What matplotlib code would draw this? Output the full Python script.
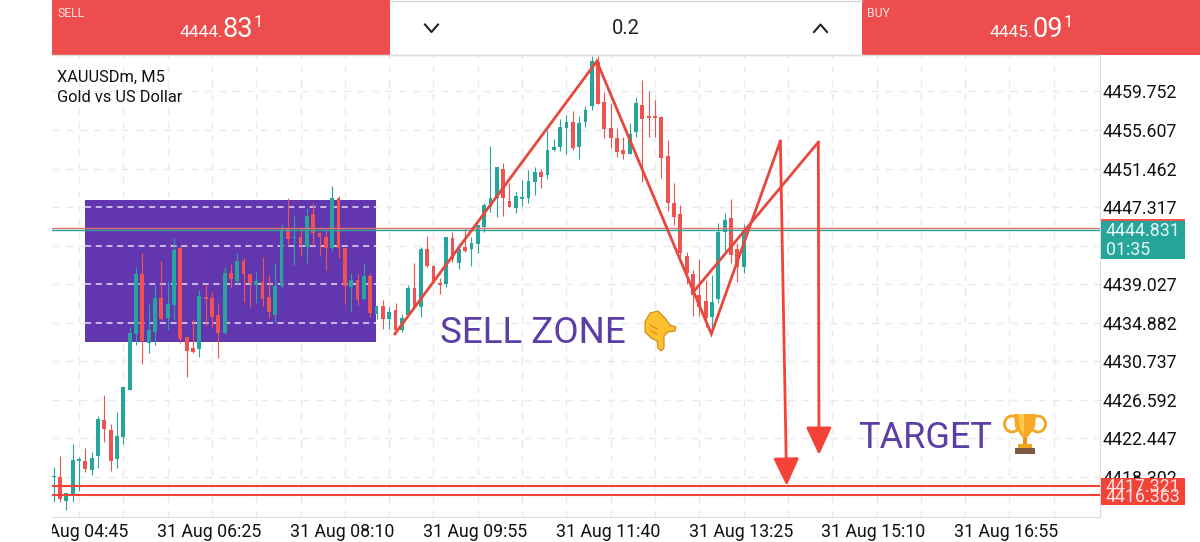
import matplotlib
matplotlib.use('Agg')
import matplotlib.pyplot as plt
from matplotlib.patches import Rectangle, Polygon, Ellipse
from matplotlib.transforms import ScaledTranslation

plt.rcParams['font.family'] = ['Roboto', 'DejaVu Sans']

# candles, first one is 4 bars left of the 04:45 tick
first_bar = -4
opens = [4418.26,4418.35,4415.77,4416.46,4420.07,4420.00,4419.10,4420.54,4424.41,4423.40,
         4420.25,4422.58,4427.66,4433.64,4440.09,4432.74,4433.92,4437.57,4435.43,4436.79,
         4442.88,4433.32,4432.17,4432.03,4437.62,4437.54,4435.68,4433.81,4440.19,4439.40,
         4441.55,4440.09,4438.94,4439.26,4437.68,4435.72,4438.83,4445.03,4443.99,4444.13,
         4443.05,4446.53,4444.49,4444.13,4442.94,4448.25,4442.88,4438.76,4439.48,4437.43,
         4439.94,4435.79,4436.68,4435.32,4436.25,4434.10,4435.72,4438.58,4436.61,4442.77,
         4440.98,4439.19,4439.05,4444.02,4441.33,4442.99,4442.81,4443.31,4445.20,4447.35,
         4448.25,4451.43,4448.01,4447.21,4448.21,4448.32,4450.00,4451.04,4450.72,4453.44,
         4453.76,4455.80,4456.45,4453.76,4456.45,4458.20,4462.92,4458.59,4455.83,4454.80,
         4453.44,4453.08,4455.34,4458.27,4457.09,4457.09,4457.02,4452.79,4447.71,4446.53,
         4442.09,4440.12,4437.83,4437.22,4435.53,4437.40,4444.66,4446.10,4442.77,4440.84]
closes = [4418.37,4415.92,4416.60,4420.11,4420.22,4419.17,4420.39,4424.55,4423.44,4420.03,
          4422.72,4427.95,4433.78,4440.09,4432.92,4434.10,4437.51,4435.25,4436.90,4442.70,
          4433.11,4431.88,4431.77,4437.76,4437.40,4435.53,4433.81,4440.19,4439.58,4441.55,
          4440.12,4439.12,4439.37,4437.40,4436.07,4438.83,4444.85,4443.88,4444.13,4443.31,
          4446.35,4444.49,4444.06,4442.94,4448.25,4442.88,4438.83,4439.48,4437.33,4439.90,
          4435.90,4436.72,4435.25,4436.04,4434.10,4435.36,4438.65,4436.61,4442.77,4440.98,
          4439.40,4438.97,4444.06,4441.70,4442.77,4442.62,4443.42,4445.38,4447.53,4448.25,
          4451.58,4448.25,4447.35,4448.50,4448.39,4450.11,4451.08,4450.54,4453.51,4453.76,
          4455.94,4456.45,4453.62,4456.31,4457.81,4463.03,4458.45,4455.73,4454.73,4453.22,
          4453.01,4455.23,4458.52,4456.77,4456.95,4456.88,4452.65,4447.71,4446.27,4442.34,
          4440.19,4437.83,4436.61,4435.36,4437.14,4444.66,4445.92,4442.16,4440.90,4444.83]
highs = [4419.42,4420.57,4416.60,4421.86,4420.43,4421.40,4421.03,4424.87,4427.12,4424.01,
         4425.30,4428.01,4434.46,4440.90,4442.34,4436.87,4438.94,4441.55,4439.40,4443.95,
         4443.13,4433.39,4435.25,4438.40,4438.94,4438.22,4437.04,4440.90,4441.19,4442.41,
         4441.81,4440.12,4440.37,4441.98,4440.01,4441.33,4445.46,4448.25,4446.46,4445.03,
         4447.18,4447.78,4444.66,4444.85,4449.57,4448.50,4442.88,4440.26,4440.12,4441.33,
         4440.20,4436.79,4437.33,4436.61,4436.97,4435.82,4438.94,4441.33,4443.05,4444.23,
         4441.09,4439.69,4444.13,4444.66,4443.42,4445.03,4444.13,4445.38,4447.71,4453.87,
         4451.58,4452.01,4449.89,4448.96,4450.22,4451.29,4451.64,4451.43,4455.59,4454.59,
         4456.84,4457.20,4457.66,4457.09,4458.20,4463.54,4463.54,4459.70,4458.56,4455.77,
         4454.87,4456.31,4459.16,4461.03,4459.81,4458.81,4457.09,4454.51,4449.93,4447.53,
         4442.52,4440.55,4441.73,4439.48,4440.01,4445.57,4446.70,4448.14,4443.42,4445.46]
lows = [4415.66,4415.66,4414.77,4415.66,4416.84,4418.88,4418.53,4419.32,4422.04,4418.96,
        4419.25,4421.89,4427.61,4432.49,4430.45,4431.67,4432.49,4435.18,4434.10,4435.18,
        4432.74,4429.09,4431.67,4431.17,4434.53,4434.39,4431.06,4433.68,4438.69,4439.05,
        4437.14,4436.61,4436.97,4436.68,4435.36,4435.00,4438.58,4443.23,4441.09,4442.05,
        4441.27,4443.23,4442.16,4440.55,4442.62,4441.81,4436.90,4436.07,4436.79,4437.33,
        4435.47,4435.29,4434.21,4434.21,4433.89,4433.89,4435.61,4436.44,4435.53,4440.84,
        4439.19,4437.97,4438.75,4441.44,4440.62,4442.52,4441.01,4442.41,4444.66,4446.81,
        4446.21,4446.35,4447.32,4446.64,4447.42,4447.78,4448.64,4449.36,4450.29,4453.36,
        4453.33,4453.01,4453.51,4452.50,4455.88,4457.73,4458.40,4454.80,4453.69,4452.72,
        4452.44,4453.03,4454.87,4450.03,4454.87,4454.87,4450.40,4446.92,4445.38,4441.98,
        4439.05,4435.64,4435.61,4434.46,4434.46,4436.97,4442.59,4441.33,4439.23,4440.26]

price_ticks = [4459.752,4455.607,4451.462,4447.317,4443.172,4439.027,4434.882,4430.737,4426.592,4422.447,4418.302]
hidden_tick = 4443.172  # sits behind the current price tag
time_labels = ['31 Aug 04:45','31 Aug 06:25','31 Aug 08:10','31 Aug 09:55','31 Aug 11:40','31 Aug 13:25','31 Aug 15:10','31 Aug 16:55']
time_bars = [0,21,42,63,84,105,126,147]

bid = 4444.831
ask = 4445.09
target_levels = [4417.321,4416.363]

zone_bars = [0.95,46.9]
zone_prices = [4432.84,4448.12]
zone_dashes = [4447.317,4443.172,4439.027,4434.882]

wave1_bars = [49.9,81.8,99.9,110.8]
wave1_prices = [4433.68,4463.0,4433.68,4454.41]
wave2_bars = [96.95,116.8]
wave2_prices = [4438.11,4454.30]
arrow1 = (111.8,4417.35)
arrow2 = (116.9,4420.68)

GREEN = '#26a69a'
RED = '#ef5350'
LINE_RED = '#f44336'
TREND = '#e5483c'
PURPLE = '#6236af'
TEXT_PURPLE = '#5b3ea6'

fig = plt.figure(figsize=(12,5.42), dpi=100, facecolor='white')
ax = fig.add_axes([52/1200, 1-517/542, 1048/1200, 462/542])
ax.set_xlim(-4.27,161.3)
ax.set_ylim(4414.0,4463.67)

# grid
ax.set_xticks(time_bars)
ax.set_xticklabels(time_labels)
ax.set_xticks(range(7,161,7), minor=True)
ax.set_yticks(price_ticks)
ax.set_yticklabels(['' if p == hidden_tick else '%.3f' %p for p in price_ticks])
ax.yaxis.tick_right()
ax.tick_params(axis='both', which='both', length=0)
ax.tick_params(axis='x', labelsize=12.75, pad=4.5, labelcolor='#111111')
ax.tick_params(axis='y', labelsize=12.75, pad=1.5, labelcolor='#111111')
for lab in ax.get_xticklabels():
    lab.set_transform(lab.get_transform() + ScaledTranslation(-3/100, 0, fig.dpi_scale_trans))
ax.grid(True, which='both', color='#e9e9e9', linestyle=(0,(5,5)), linewidth=1)
ax.set_axisbelow(True)
for side in ['left','top']:
    ax.spines[side].set_visible(False)
for side in ['right','bottom']:
    ax.spines[side].set_color('#dddddd')

# sell zone, hides the grid under it
ax.add_patch(Rectangle((zone_bars[0],zone_prices[0]), zone_bars[1]-zone_bars[0], zone_prices[1]-zone_prices[0],
                       color=PURPLE, lw=0, zorder=1.5))
ax.hlines(zone_dashes, zone_bars[0], zone_bars[1], color='#e6dcf5', linestyle=(0,(4,3)), linewidth=1.1, zorder=1.6)

# candles
for i in range(len(closes)):
    bar = first_bar + i
    color = GREEN if closes[i] >= opens[i] else RED
    ax.vlines(bar, lows[i], highs[i], color=color, linewidth=0.8, zorder=2)
    ax.bar(bar, max(abs(closes[i]-opens[i]),0.12), bottom=min(opens[i],closes[i]), width=0.6, color=color, linewidth=0, zorder=2.1)

# price lines
ax.axhline(ask, color='#e57368', linewidth=1, zorder=3)
ax.axhline(bid, color=GREEN, linewidth=1, zorder=3)
for level in target_levels:
    ax.axhline(level, color=LINE_RED, linewidth=1.5, zorder=3)

# drawn waves and arrows
ax.plot(wave1_bars, wave1_prices, color=TREND, linewidth=2, solid_joinstyle='miter', zorder=4)
ax.plot(wave2_bars, wave2_prices, color=TREND, linewidth=2, solid_joinstyle='miter', zorder=4)
head = dict(arrowstyle='-|>,head_length=1.55,head_width=0.72', color=LINE_RED, lw=2, shrinkA=0, shrinkB=0, mutation_scale=11)
ax.annotate('', xy=arrow1, xytext=(wave1_bars[-1],wave1_prices[-1]), arrowprops=head, zorder=4)
ax.annotate('', xy=arrow2, xytext=(wave2_bars[-1],wave2_prices[-1]), arrowprops=head, zorder=4)

# everything around the chart is placed in screen pixels
ui = fig.add_axes([0,0,1,1], zorder=5)
ui.set_xlim(0,1200)
ui.set_ylim(542,0)
ui.axis('off')

ui.add_patch(Rectangle((0,517.5), 52, 24.5, color='white', lw=0))

# top bar
ui.add_patch(Rectangle((52,0), 338, 55, color='#ee4d4d', lw=0))
ui.add_patch(Rectangle((862,0), 338, 55, color='#ee4d4d', lw=0))
ui.plot([390,862], [0.7,0.7], color='#d8d8d8', lw=1)
ui.plot([390,862], [54.5,54.5], color='#d8d8d8', lw=1)
ui.plot([52,1100], [55,55], color='#dddddd', lw=1)
ui.plot([425,431.5,438], [24.5,32,24.5], color='#222222', lw=1.5)
ui.plot([814,820.5,827], [32,24.5,32], color='#222222', lw=1.5)
ui.text(626, 29, '0.2', fontsize=14.5, color='#222222', ha='center', va='center')

ui.text(57, 13.5, 'SELL', fontsize=8.8, color='#fbe3e3', va='center')
ui.text(867, 13.5, 'BUY', fontsize=8.8, color='#fbe3e3', va='center')
for x0, small, big in [(179,'4444.','83'), (989,'4445.','09')]:
    ui.text(x0, 37, small, fontsize=12.5, color='white', va='baseline')
    ui.text(x0+43, 37, big, fontsize=19.5, color='white', va='baseline')
    ui.text(x0+75, 27, '1', fontsize=12, color='white', va='baseline')

# symbol
ui.text(57, 77.5, 'XAUUSDm, M5', fontsize=11.8, color='#111111', va='center')
ui.text(57, 97, 'Gold vs US Dollar', fontsize=11.8, color='#111111', va='center')

# price tags
ui.add_patch(Rectangle((1101,219), 84, 20, color=RED, lw=0))
ui.add_patch(Rectangle((1101,220.5), 84, 38.5, color=GREEN, lw=0))
ui.text(1106, 231.5, '4444.831', fontsize=12.75, color='#e8f6f4', va='center')
ui.text(1106, 250, '01:35', fontsize=12.75, color='#e8f6f4', va='center')
ui.add_patch(Rectangle((1101,477.5), 84, 19, color=LINE_RED, lw=0))
ui.text(1106, 487, '4417.321', fontsize=12.75, color='#fbe3e3', va='center')
ui.add_patch(Rectangle((1101,487), 84, 18, color=LINE_RED, lw=0))
ui.text(1106, 496.5, '4416.363', fontsize=12.75, color='#fbe3e3', va='center')

# labels
ui.text(440, 333, 'SELL ZONE', fontsize=26.5, color=TEXT_PURPLE, va='center')
ui.text(858, 438, 'TARGET', fontsize=26, color=TEXT_PURPLE, va='center')

# hand, no emoji font here so it is drawn
hand = [(645,322),(650,313),(658,311),(665,318),(670,325),(676,327),(675,331),(668,332),(664,336),(664,348),(661,351),
        (658,348),(657,341),(651,338),(645,332)]
ui.add_patch(Polygon(hand, closed=True, facecolor='#fdbf2d', edgecolor='#c98a12', lw=0.8))
ui.plot([650,657], [325,329], color='#c98a12', lw=0.7)
ui.plot([651,657], [331,334], color='#c98a12', lw=0.7)

# trophy
ui.add_patch(Ellipse((1012,424), 15, 16, fill=False, edgecolor='#f2a51f', lw=2))
ui.add_patch(Ellipse((1038,424), 15, 16, fill=False, edgecolor='#f2a51f', lw=2))
ui.add_patch(Polygon([(1014,414),(1036,414),(1035,427),(1028,437),(1022,437),(1015,427)], closed=True, facecolor='#f9a825', edgecolor='none'))
ui.add_patch(Polygon([(1018,414),(1024,414),(1024,435),(1020,428)], closed=True, facecolor='#ffc94a', edgecolor='none'))
ui.add_patch(Rectangle((1023,437), 4, 8, color='#e8961a', lw=0))
ui.add_patch(Rectangle((1018,444), 14, 4, color='#f2a51f', lw=0))
ui.add_patch(Rectangle((1015,448), 20, 6, color='#7b5a45', lw=0))

fig.savefig('out.png', dpi=100)
